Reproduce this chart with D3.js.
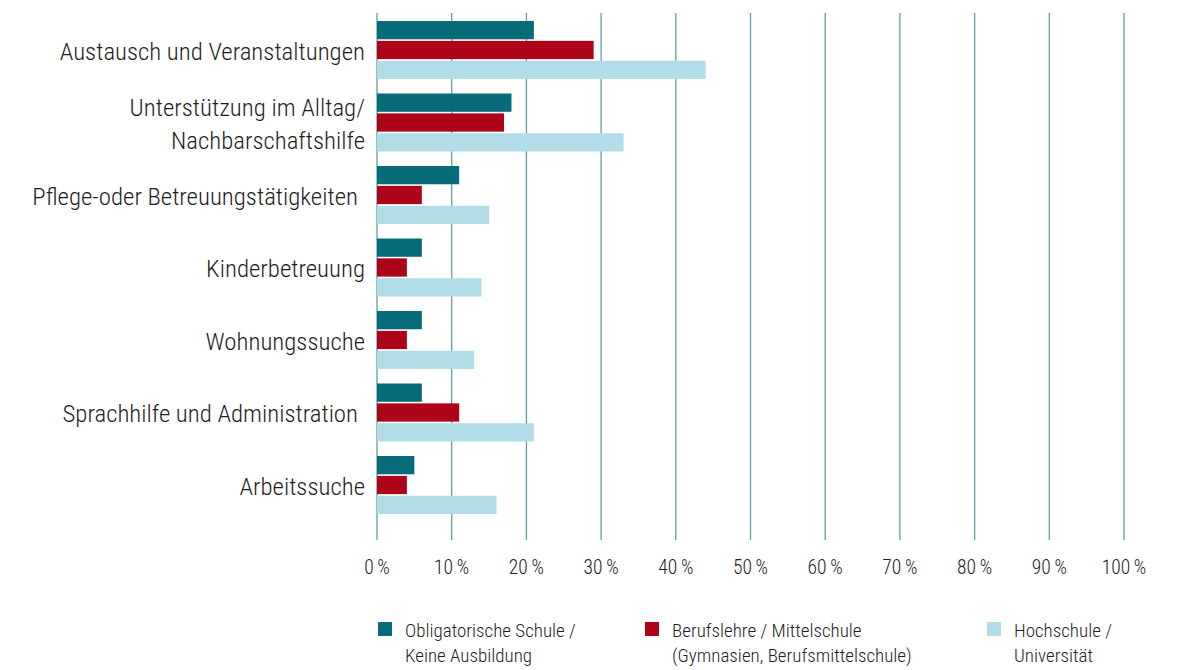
<!DOCTYPE html>
<html><head><meta charset="utf-8">
<script src="https://cdn.jsdelivr.net/npm/d3@7"></script>
<style>
body{margin:0;background:#fff;}
svg text{font-family:"Roboto Condensed","Liberation Sans Narrow",sans-serif;font-weight:300;fill:#1e1e1e;}
</style></head>
<body>
<svg id="c" width="1182" height="670"></svg>
<script>
const categories = [
  ["Austausch und Veranstaltungen"],
  ["Unterstützung im Alltag/", "Nachbarschaftshilfe"],
  ["Pflege-oder Betreuungstätigkeiten"],
  ["Kinderbetreuung"],
  ["Wohnungssuche"],
  ["Sprachhilfe und Administration"],
  ["Arbeitssuche"]
];
const seriesNames = [
  ["Obligatorische Schule /", "Keine Ausbildung"],
  ["Berufslehre / Mittelschule", "(Gymnasien, Berufsmittelschule)"],
  ["Hochschule /", "Universität"]
];
const obligatorisch = [21, 18, 11, 6, 6, 6, 5];
const berufslehre = [29, 17, 6, 4, 4, 11, 4];
const hochschule = [44, 33, 15, 14, 13, 21, 16];
const colors = ["#086b79", "#ad0419", "#b2dde8"];
const tickValues = [0,10,20,30,40,50,60,70,80,90,100];
const labelOffsets = [0, 0, 7, 0, 0, 7, 0];

const series = [obligatorisch, berufslehre, hochschule];
const svg = d3.select("#c");
const x = d3.scaleLinear().domain([0,100]).range([377,1124]);
const y = d3.scaleBand().domain(d3.range(categories.length)).range([13.75,521.25]).paddingInner(0.2).paddingOuter(0.1);
const yi = d3.scaleBand().domain(d3.range(series.length)).range([0, y.bandwidth()]).paddingInner(0.08);

// gridlines
svg.append("g").selectAll("line").data(tickValues).join("line")
  .attr("x1", d=>x(d)).attr("x2", d=>x(d)).attr("y1", 13).attr("y2", 540)
  .attr("stroke", "#5f9fa9").attr("stroke-width", 1.3);

// bars
const g = svg.append("g").selectAll("g").data(categories).join("g")
  .attr("transform", (d,i)=>`translate(0,${y(i)})`);
g.selectAll("rect").data((d,i)=>series.map((s,j)=>({v:s[i], j}))).join("rect")
  .attr("x", x(0)).attr("y", d=>yi(d.j)).attr("height", yi.bandwidth())
  .attr("width", d=>x(d.v)-x(0)).attr("fill", d=>colors[d.j]);

// category labels
const lab = svg.append("g").selectAll("text").data(categories).join("text")
  .attr("text-anchor","end").attr("font-size", 24.8)
  .attr("x", (d,i)=>365 - labelOffsets[i])
  .attr("y", (d,i)=>y(i) + y.bandwidth()/2 + 1 - (d.length-1)*16.5);
lab.selectAll("tspan").data(d=>d).join("tspan")
  .attr("x", function(){return this.parentNode.getAttribute("x");})
  .attr("dy", (d,k)=>k===0?"0.35em":33).text(d=>d);

// x axis tick labels
svg.append("g").selectAll("text").data(tickValues).join("text")
  .attr("x", d=>x(d)).attr("y", 567).attr("dy","0.35em")
  .attr("text-anchor","middle").attr("font-size", 19.5).style("fill","#222")
  .text(d=>d + "\u2009%");

// legend
const legX = [378, 645, 987];
const leg = svg.append("g").selectAll("g").data(seriesNames).join("g")
  .attr("transform", (d,i)=>`translate(${legX[i]},622)`);
leg.append("rect").attr("width", 14).attr("height", 14).attr("fill", (d,i)=>colors[i]);
leg.append("text").attr("x", 27).attr("y", 8).attr("font-size", 19)
  .selectAll("tspan").data(d=>d).join("tspan")
  .attr("x", 27).attr("dy", (d,k)=>k===0?"0.35em":25).text(d=>d);
</script>
</body></html>
